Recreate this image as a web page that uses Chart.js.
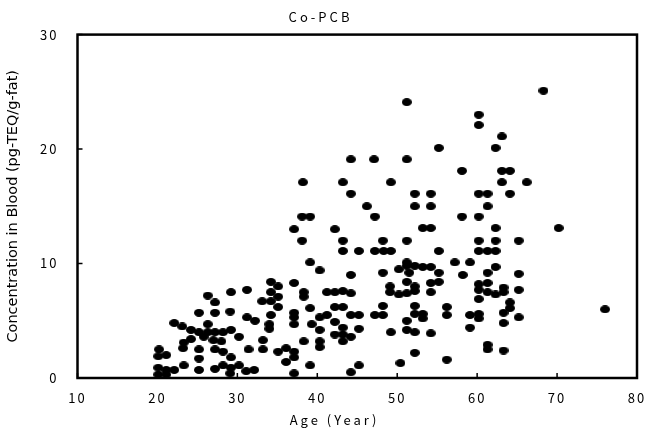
<!DOCTYPE html>
<html>
<head>
<meta charset="utf-8">
<script src="https://cdn.jsdelivr.net/npm/chart.js@4.4.1/dist/chart.umd.min.js"></script>
<style>
  html, body { margin: 0; padding: 0; background: #fff; }
  #wrap { width: 646px; height: 434px; }
</style>
</head>
<body>
<div id="wrap"><canvas id="myChart" width="646" height="434"></canvas></div>
<script>
// valores (edad, concentracion)
var ages = [
  68.3, 51.2, 60.2, 60.2, 63.1, 55.2, 62.3, 51.2, 44.2, 47.1,
  58.1, 63.1, 64.1, 63.1, 66.2, 38.2, 43.2, 49.2, 52.2, 54.2,
  60.2, 61.3, 64.1, 44.2, 52.2, 54.2, 61.3, 46.2, 38.1, 39.1,
  47.2, 58.1, 60.2, 37.1, 42.2, 53.2, 54.2, 62.3, 70.2, 38.1,
  43.2, 48.2, 51.2, 60.2, 62.3, 65.2, 43.2, 45.2, 47.2, 48.3,
  49.2, 55.2, 60.2, 61.3, 62.3, 39.1, 51.2, 57.2, 59.1, 40.3,
  44.2, 48.2, 50.2, 51.2, 51.5, 52.2, 53.2, 54.2, 55.2, 62.3,
  65.2, 58.2, 61.3, 34.2, 37.1, 35.1, 51.2, 52.2, 52.2, 51.2,
  54.2, 55.2, 54.2, 60.2, 61.3, 60.2, 61.3, 62.3, 63.3, 63.3,
  65.2, 60.2, 64.1, 64.1, 52.2, 56.2, 52.2, 53.2, 53.2, 56.2,
  59.1, 60.2, 60.2, 63.3, 63.3, 65.2, 51.2, 51.2, 52.2, 54.2,
  59.1, 61.3, 61.3, 63.3, 52.2, 56.2, 50.4, 76.0,
  34.2, 35.1, 35.1, 34.2, 38.3, 38.3, 41.2, 42.2, 43.2, 44.2,
  49.1, 49.1, 50.2, 42.2, 43.2, 48.2, 39.1, 37.1, 37.1, 37.1,
  41.2, 40.3, 44.2, 45.2, 47.2, 48.2, 42.2, 39.3, 40.3, 43.2,
  42.2, 43.2, 44.2, 43.2, 45.2, 49.2, 40.3, 40.3, 38.3, 35.1,
  36.1, 37.1, 37.1, 36.1, 39.1, 45.2, 37.1, 44.2,
  34.2, 29.2, 31.2, 26.3, 27.2, 33.1, 25.2, 27.2, 29.1, 31.2,
  32.2, 34.0, 34.0, 22.1, 23.1, 24.2, 25.2, 26.3, 26.3, 27.2,
  28.2, 29.2, 25.8, 27.0, 28.0, 30.2, 33.2, 23.3, 24.2, 20.2,
  21.1, 23.2, 25.2, 27.2, 28.2, 31.4, 33.2, 25.2, 29.2, 20.1,
  21.1, 22.1, 20.1, 21.1, 23.3, 25.2, 27.2, 28.2, 29.2, 29.1,
  30.2, 31.1, 32.1, 20.1
];
var conc = [
  25.1, 24.1, 23.0, 22.1, 21.1, 20.1, 20.1, 19.1, 19.1, 19.1,
  18.1, 18.1, 18.1, 17.1, 17.1, 17.1, 17.1, 17.1, 16.1, 16.1,
  16.1, 16.1, 16.1, 16.1, 15.0, 15.0, 15.0, 15.0, 14.1, 14.1,
  14.1, 14.1, 14.1, 13.0, 13.0, 13.1, 13.1, 13.1, 13.1, 12.0,
  12.0, 12.0, 12.0, 12.0, 12.0, 12.0, 11.1, 11.1, 11.1, 11.1,
  11.1, 11.1, 11.1, 11.1, 11.1, 10.1, 10.1, 10.1, 10.1, 9.4,
  9.0, 9.2, 9.5, 9.8, 9.2, 9.8, 9.7, 9.7, 9.2, 9.7,
  9.1, 9.0, 9.2, 8.4, 8.3, 8.0, 8.4, 8.0, 7.6, 7.4,
  8.3, 8.4, 7.5, 8.2, 8.3, 7.7, 7.5, 7.3, 7.9, 7.5,
  7.7, 6.9, 6.6, 6.1, 6.3, 6.2, 5.6, 5.6, 5.2, 5.5,
  5.5, 5.6, 5.2, 5.7, 4.8, 5.3, 5.0, 4.2, 4.0, 3.9,
  4.4, 2.9, 2.5, 2.4, 2.2, 1.6, 1.3, 6.0,
  7.5, 7.1, 6.2, 5.5, 7.5, 7.1, 7.5, 7.5, 7.6, 7.4,
  8.0, 7.5, 7.3, 6.2, 6.2, 6.3, 6.1, 5.7, 5.3, 4.7,
  5.5, 5.3, 5.5, 5.5, 5.5, 5.5, 4.9, 4.7, 4.2, 4.4,
  3.8, 3.8, 3.6, 3.2, 4.3, 4.0, 3.2, 2.7, 3.2, 2.3,
  2.6, 2.3, 1.8, 1.4, 1.1, 1.1, 0.4, 0.5,
  6.7, 7.5, 7.7, 7.2, 6.6, 6.7, 5.7, 5.7, 5.8, 5.3,
  5.0, 4.7, 4.3, 4.8, 4.5, 4.2, 4.0, 4.0, 4.7, 4.0,
  4.0, 4.2, 3.6, 3.3, 3.2, 3.6, 3.3, 3.1, 3.4, 2.5,
  2.0, 2.6, 2.5, 2.5, 2.3, 2.5, 2.5, 1.7, 1.8, 0.9,
  0.7, 0.7, 0.3, 0.3, 1.1, 0.7, 0.8, 1.1, 0.9, 0.4,
  1.1, 0.6, 0.7, 1.9
];
var xTicks = [10, 20, 30, 40, 50, 60, 70, 80];
var yTicks = [0, 10, 20, 30];
var tituloX = 'Age (Year)';

var puntos = ages.map(function (a, i) { return { x: a, y: conc[i] }; });

// punto eliptico negro
var dot = document.createElement('canvas');
dot.width = 10; dot.height = 8;
var g = dot.getContext('2d');
g.fillStyle = '#000';
g.beginPath();
g.ellipse(5, 4, 5, 4, 0, 0, 2 * Math.PI);
g.fill();

var fuente = '"Noto Sans CJK JP", "DejaVu Sans", sans-serif';

// ancho de un texto con espaciado de letras
function ancho(c, t, sp) {
  c.letterSpacing = '0px';
  return c.measureText(t).width + sp * (t.length - 1);
}

// envuelve un metodo de dibujo con espaciado de letras
function espaciado(fn, sp) {
  return function () {
    var c = this.ctx, old = c.letterSpacing;
    c.letterSpacing = sp;
    fn.apply(this, arguments);
    c.letterSpacing = old;
  };
}
function preparar(s, spLabels, spTitle) {
  if (s._esp) return;
  s.drawLabels = espaciado(s.drawLabels, spLabels);
  s.drawTitle = espaciado(s.drawTitle, spTitle);
  s._esp = true;
}

// marco, marcas hacia adentro, etiquetas del eje y, titulo del eje x
var marco = {
  id: 'marco',
  beforeDraw: function (chart) {
    chart.ctx.letterSpacing = '3px';
  },
  afterDatasetsDraw: function (chart) {
    var ctx = chart.ctx, a = chart.chartArea;
    var xs = chart.scales.x, ys = chart.scales.y;
    ctx.save();
    ctx.strokeStyle = '#000';
    ctx.lineWidth = 1.5;
    ctx.beginPath();
    xTicks.forEach(function (v) {
      var px = xs.getPixelForValue(v);
      ctx.moveTo(px, a.bottom); ctx.lineTo(px, a.bottom - 5);
    });
    yTicks.forEach(function (v) {
      var py = ys.getPixelForValue(v);
      ctx.moveTo(a.left, py); ctx.lineTo(a.left + 5, py);
    });
    ctx.stroke();
    ctx.lineWidth = 2.5;
    ctx.strokeRect(a.left, a.top, a.right - a.left, a.bottom - a.top);

    // etiquetas del eje y: cada cifra por separado, alineadas a la derecha
    ctx.fillStyle = '#000';
    ctx.textBaseline = 'middle';
    ctx.font = '13px ' + fuente;
    ctx.letterSpacing = '0px';
    ctx.textAlign = 'left';
    yTicks.forEach(function (v) {
      var t = String(v);
      var py = ys.getPixelForValue(v);
      var px = a.left - 42;
      for (var i = t.length - 1; i >= 0; i--) {
        var w = ctx.measureText(t[i]).width;
        px = (i === t.length - 1) ? a.left - 21 - w : px - w - 2;
        ctx.fillText(t[i], px, py);
      }
    });

    var wt = ancho(ctx, tituloX, 3);
    ctx.letterSpacing = '3px';
    ctx.fillText(tituloX, 333 - wt / 2, 420);
    ctx.restore();
  }
};

var ctx = document.getElementById('myChart').getContext('2d');
var myChart = new Chart(ctx,
{
  type: 'scatter',
  data:
  {
    datasets:
    [
      {
        data: puntos,
        pointStyle: dot,
        pointRadius: 5,
        pointHoverRadius: 5,
        backgroundColor: '#000',
        borderColor: '#000'
      }
    ]
  },
  options:
  {
    responsive: false,
    animation: false,
    events: [],
    layout: { padding: { left: 4, right: 9, top: 0, bottom: 4 } },
    plugins:
    {
      legend: { display: false },
      tooltip: { enabled: false },
      title:
      {
        display: true,
        text: 'Co-PCB',
        color: '#000',
        font: { family: fuente, size: 13, weight: 'normal' },
        padding: { top: 9, bottom: 10 }
      }
    },
    scales:
    {
      x:
      {
        type: 'linear',
        min: 10, max: 80,
        afterBuildTicks: function (s) { s.ticks = xTicks.map(function (v) { return { value: v }; }); },
        afterFit: function (s) { s.height = 52; preparar(s, '2px', '3px'); },
        grid: { display: false, drawTicks: true, tickLength: 12 },
        border: { display: false },
        ticks: { color: '#000', padding: 0, maxRotation: 0, font: { family: fuente, size: 13 } },
        title: { display: false, text: tituloX }
      },
      y:
      {
        type: 'linear',
        min: 0, max: 30,
        afterBuildTicks: function (s) { s.ticks = yTicks.map(function (v) { return { value: v }; }); },
        afterFit: function (s) { s.width = 73.5; preparar(s, '0px', '0px'); },
        grid: { display: false, drawTicks: false },
        border: { display: false },
        ticks: { display: false },
        title:
        {
          display: true,
          text: 'Concentration in Blood (pg-TEQ/g-fat)',
          color: '#000',
          font: { family: '"DejaVu Sans", sans-serif', size: 14.5 },
          padding: { top: 1, bottom: 0 }
        }
      }
    }
  },
  plugins: [marco]
});
</script>
</body>
</html>
